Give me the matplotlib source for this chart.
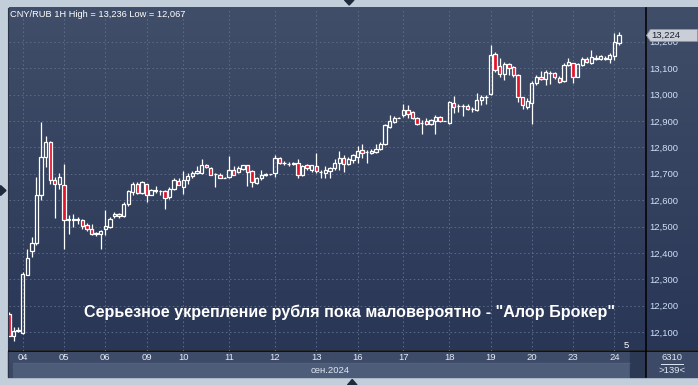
import numpy as np
import matplotlib
matplotlib.use("Agg")
import matplotlib.pyplot as plt
from matplotlib.patches import Polygon, Rectangle

# ---------------- data ----------------
opens = [12169, 12087, 12105, 12097, 12317, 12407, 12438, 12618, 12764, 12821,
         12675, 12660, 12656, 12527, 12526, 12524, 12524, 12505, 12492, 12473,
         12470, 12492, 12498, 12539, 12549, 12540, 12587, 12631, 12663, 12627,
         12663, 12621, 12640, 12633, 12634, 12610, 12644, 12673, 12650, 12678,
         12690, 12701, 12703, 12732, 12723, 12698, 12694, 12685, 12688, 12716,
         12707, 12717, 12732, 12709, 12665, 12682, 12697, 12698, 12703, 12761,
         12739, 12736, 12735, 12739, 12694, 12732, 12716, 12728, 12707, 12703,
         12709, 12720, 12741, 12761, 12736, 12751, 12764, 12789, 12783, 12779,
         12783, 12793, 12812, 12878, 12897, 12913, 12922, 12943, 12935, 12913,
         12893, 12899, 12890, 12900, 12916, 12899, 12893, 12969, 12956, 12956,
         12956, 12944, 12941, 12979, 12991, 13002, 13153, 13108, 13078, 13115,
         13103, 13074, 12989, 12951, 12969, 13045, 13067, 13057, 13082, 13080,
         13061, 13052, 13112, 13118, 13067, 13112, 13133, 13120, 13140, 13133,
         13140, 13133, 13146, 13196]
highs = [12175, 12119, 12119, 12328, 12416, 12460, 12688, 12897, 12842, 12825,
         12688, 12703, 12736, 12543, 12549, 12536, 12530, 12513, 12508, 12479,
         12488, 12564, 12536, 12555, 12551, 12593, 12640, 12669, 12669, 12672,
         12663, 12644, 12653, 12640, 12637, 12650, 12685, 12682, 12709, 12701,
         12711, 12728, 12755, 12736, 12726, 12704, 12701, 12686, 12768, 12728,
         12728, 12732, 12733, 12713, 12688, 12716, 12703, 12700, 12770, 12764,
         12749, 12745, 12745, 12755, 12732, 12736, 12732, 12779, 12713, 12728,
         12726, 12754, 12785, 12770, 12764, 12774, 12804, 12812, 12789, 12792,
         12812, 12821, 12887, 12922, 12918, 12914, 12966, 12960, 12937, 12916,
         12905, 12912, 12909, 12922, 12918, 12900, 12975, 12994, 12964, 12966,
         12966, 12951, 13007, 12998, 13000, 13187, 13162, 13137, 13124, 13120,
         13108, 13076, 12992, 12985, 13051, 13074, 13089, 13093, 13090, 13086,
         13070, 13118, 13137, 13120, 13118, 13141, 13143, 13168, 13150, 13150,
         13146, 13156, 13232, 13236]
lows = [12085, 12067, 12100, 12094, 12315, 12384, 12429, 12599, 12726, 12663,
        12534, 12644, 12416, 12470, 12498, 12511, 12492, 12483, 12467, 12463,
        12416, 12467, 12494, 12534, 12534, 12536, 12577, 12618, 12622, 12625,
        12593, 12618, 12627, 12618, 12565, 12606, 12640, 12656, 12625, 12663,
        12682, 12698, 12698, 12720, 12694, 12650, 12684, 12684, 12685, 12694,
        12701, 12713, 12653, 12650, 12660, 12678, 12692, 12697, 12688, 12735,
        12732, 12730, 12733, 12684, 12692, 12716, 12707, 12703, 12682, 12682,
        12682, 12716, 12713, 12707, 12732, 12741, 12741, 12761, 12739, 12776,
        12779, 12789, 12808, 12874, 12894, 12912, 12916, 12912, 12909, 12884,
        12852, 12884, 12884, 12852, 12897, 12898, 12890, 12931, 12935, 12918,
        12941, 12935, 12938, 12960, 12966, 13000, 13086, 13065, 13055, 13074,
        13065, 12972, 12947, 12947, 12890, 13036, 13055, 13036, 13040, 13057,
        13042, 13048, 13108, 13042, 13065, 13108, 13118, 13115, 13131, 13131,
        13131, 13120, 13131, 13188]
closes = [12087, 12106, 12108, 12319, 12382, 12438, 12621, 12764, 12821, 12675,
          12660, 12688, 12524, 12525, 12527, 12530, 12502, 12492, 12473, 12474,
          12482, 12501, 12530, 12549, 12540, 12587, 12635, 12663, 12627, 12669,
          12621, 12637, 12634, 12636, 12608, 12641, 12675, 12659, 12678, 12690,
          12703, 12709, 12732, 12726, 12697, 12699, 12685, 12685, 12716, 12697,
          12720, 12732, 12707, 12669, 12684, 12697, 12699, 12698, 12758, 12739,
          12739, 12738, 12741, 12697, 12728, 12720, 12732, 12709, 12707, 12713,
          12720, 12741, 12758, 12736, 12755, 12770, 12785, 12780, 12783, 12787,
          12795, 12812, 12884, 12899, 12913, 12913, 12943, 12928, 12913, 12887,
          12893, 12890, 12903, 12916, 12899, 12899, 12973, 12951, 12956, 12958,
          12944, 12944, 12981, 12989, 12991, 13150, 13093, 13078, 13115, 13099,
          13074, 12992, 12960, 12975, 13045, 13067, 13060, 13084, 13082, 13065,
          13048, 13112, 13122, 13067, 13115, 13133, 13124, 13141, 13135, 13146,
          13135, 13150, 13200, 13224]

day_labels = ["04", "05", "06", "09", "10", "11", "12", "13", "16", "17",
              "18", "19", "20", "23", "24"]
day_start_idx = [3, 12, 21, 30, 38, 48, 58, 67, 76, 86, 96, 105, 114, 123, 132]
price_ticks = [12100, 12200, 12300, 12400, 12500, 12600, 12700, 12800,
               12900, 13000, 13100, 13200]
price_tick_labels = ["12,100", "12,200", "12,300", "12,400", "12,500", "12,600",
                     "12,700", "12,800", "12,900", "13,000", "13,100", "13,200"]
title_text = "CNY/RUB 1H High = 13,236 Low = 12,067"
headline = "Серьезное укрепление рубля пока маловероятно - \"Алор Брокер\""
month_label = "сен.2024"
last_price = 13224
last_price_label = "13,224"
corner_top = "6310"
corner_bottom = ">139<"
small_mark = "5"

# ---------------- figure ----------------
W, H = 698, 385
FONT = "Liberation Sans"
plt.rcParams["font.family"] = [FONT, "DejaVu Sans"]
fig = plt.figure(figsize=(W / 100, H / 100), dpi=100, facecolor="#c3cedb")


def px_axes(l, t, r, b, **kw):
    return fig.add_axes([l / W, 1 - b / H, (r - l) / W, (b - t) / H], **kw)


# background / frame axes in pixel coordinates
bg = px_axes(0, 0, W, H, zorder=0)
bg.set_xlim(0, W)
bg.set_ylim(H, 0)
bg.axis("off")

top_c = np.array([64, 78, 105]) / 255
bot_c = np.array([41, 54, 86]) / 255
t = np.linspace(0, 1, 256)[:, None, None]
grad = top_c + (bot_c - top_c) * t
bg.imshow(grad, extent=(8.5, W, 350.5, 8), aspect="auto", interpolation="bilinear", zorder=0)

# bottom strips
bg.add_patch(Rectangle((7.5, 350.5), 646 - 7.5, 12, color="#3d4b68", zorder=1))
bg.add_patch(Rectangle((7.5, 362.5), 5, 14.5, color="#3a4866", zorder=1))
bg.add_patch(Rectangle((12.5, 362.5), 630 - 12.5, 14.5, color="#4d5c79", zorder=1))
bg.add_patch(Rectangle((630, 350.5), 16, 26.5, color="#2c3954", zorder=1))
bg.add_patch(Rectangle((646, 350.5), W - 646, 26.5, color="#3c4a67", zorder=1))
bg.plot([7.5, 7.5], [8, 377], color="#2a3348", lw=0.8, zorder=2)
bg.plot([8.5, W], [350.6, 350.6], color="black", lw=1.1, zorder=3)
bg.plot([646.3, 646.3], [8, 377], color="black", lw=1.1, zorder=3)
bg.plot([12.5, 630], [362.5, 362.5], color="#56658a", lw=0.4, zorder=2)

# triangles on the outer frame
bg.add_patch(Polygon([(0.5, 185.5), (6, 190.5), (0.5, 195.5)], color="#1f2a3c", zorder=3))
bg.add_patch(Polygon([(344.5, 0), (354, 0), (349.2, 5)], color="#1f2a3c", zorder=3))
bg.add_patch(Polygon([(347.5, 385), (357, 385), (352.2, 379.5)], color="#1f2a3c", zorder=3))

# ---------------- main chart ----------------
ax = px_axes(8.5, 8, 646, 350.5, zorder=1)
ax.patch.set_alpha(0)
for s in ax.spines.values():
    s.set_visible(False)

x = np.arange(len(opens))
o = np.array(opens, float)
h = np.array(highs, float)
l = np.array(lows, float)
c = np.array(closes, float)
up = c >= o
body_lo = np.minimum(o, c)
body_hi = np.maximum(o, c)

ax.vlines(x, body_hi, h, color="white", lw=0.9, zorder=3)
ax.vlines(x, l, body_lo, color="white", lw=0.9, zorder=3)
ax.bar(x[up], (body_hi - body_lo)[up], bottom=body_lo[up], width=0.72,
       facecolor="none", edgecolor="white", linewidth=0.9, zorder=4)
ax.bar(x[~up], (body_hi - body_lo)[~up], bottom=body_lo[~up], width=0.72,
       facecolor="#e3142d", edgecolor="white", linewidth=0.9, zorder=4)

ax.set_xlim(-0.1, 138.9)
ax.set_ylim(12030.4, 13327.8)

ax.set_xticks(day_start_idx)
ax.set_xticklabels(day_labels)
ax.set_yticks(price_ticks)
ax.set_yticklabels(price_tick_labels)
ax.yaxis.tick_right()
ax.tick_params(axis="y", length=0, pad=2.3, labelsize=6.8, labelcolor="#cfe0f7")
ax.tick_params(axis="x", length=0, pad=1.8, labelsize=6.8, labelcolor="#e4ebf5")
ax.grid(True, color="#5b6a88", lw=0.7, linestyle=(0, (1.6, 2.6)), zorder=1)
ax.set_axisbelow(True)

# ---------------- overlay texts ----------------
ov = px_axes(0, 0, W, H, zorder=2)
ov.set_xlim(0, W)
ov.set_ylim(H, 0)
ov.axis("off")

ov.text(10, 14.5, title_text, color="white", fontsize=6.7, va="center", ha="left")
ov.text(350, 317, headline, color="white", fontsize=11.65, fontweight="bold",
        va="baseline", ha="center")
ov.text(330, 370.5, month_label, color="#dfe7f2", fontsize=6.8, va="center", ha="center")
ov.text(626, 345, small_mark, color="white", fontsize=6.8, va="center", ha="center")
ov.text(672, 357, corner_top, color="#dfe7f2", fontsize=6.8, va="center", ha="center")
ov.plot([661, 683], [363.5, 363.5], color="#dfe7f2", lw=0.7)
ov.text(672, 370.5, corner_bottom, color="#dfe7f2", fontsize=6.8, va="center", ha="center")

# last price marker (drawn over the 13,200 axis label, as in the original)
fig.canvas.draw()
yp = H - ax.transData.transform((0, last_price))[1]
ov.add_patch(Polygon([(646.5, yp), (650.5, yp - 6), (697.5, yp - 6), (697.5, yp + 6),
                      (650.5, yp + 6)], facecolor="#c9ced7", edgecolor="#8d97a8",
                     lw=0.6, zorder=5))
ov.text(651.5, yp, last_price_label, color="#1b2333", fontsize=6.8, va="center",
        ha="left", zorder=6)

fig.savefig("out.png", dpi=100, facecolor=fig.get_facecolor())
